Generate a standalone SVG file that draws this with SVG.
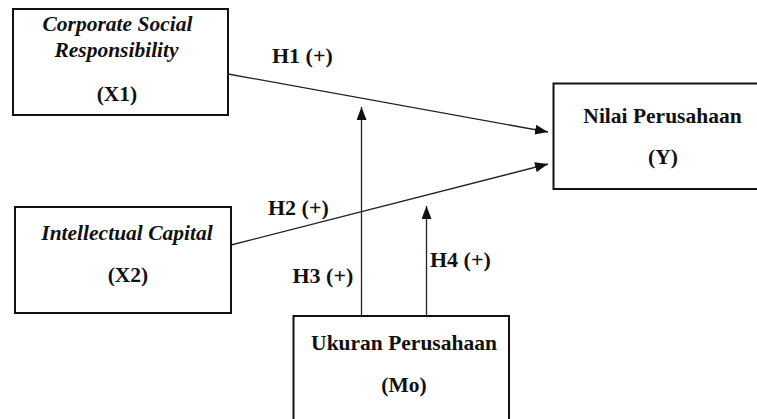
<svg xmlns="http://www.w3.org/2000/svg" width="757" height="419" viewBox="0 0 757 419">
<style>
.box{fill:#fff;stroke:#111;stroke-width:2}
.t{font-family:"Liberation Serif","Times New Roman",serif;font-size:21.5px;font-weight:bold;fill:#111;text-anchor:middle}
.i{font-style:italic}
.lbl{font-family:"Liberation Serif","Times New Roman",serif;font-size:22px;font-weight:bold;fill:#111}
.c{fill:none;stroke:#222;stroke-width:1.3}
</style>
<defs>
<marker id="ah" markerUnits="userSpaceOnUse" markerWidth="13" markerHeight="10" refX="13" refY="5" orient="auto">
<path d="M0,0 L13,5 L0,10 z" fill="#111"/>
</marker>
</defs>
<rect width="757" height="419" fill="#fff"/>
<g id="connectors">
<line class="c" x1="228" y1="74" x2="548" y2="132" marker-end="url(#ah)"/>
<line class="c" x1="231" y1="245" x2="548" y2="164" marker-end="url(#ah)"/>
<line class="c" x1="361.5" y1="316" x2="361.5" y2="107" marker-end="url(#ah)"/>
<line class="c" x1="426.5" y1="316" x2="426.5" y2="206" marker-end="url(#ah)"/>
<text class="lbl" x="272" y="63">H1 (+)</text>
<text class="lbl" x="268" y="215">H2 (+)</text>
<text class="lbl" x="292.5" y="283">H3 (+)</text>
<text class="lbl" x="430" y="267">H4 (+)</text>
</g>
<g id="x1">
<rect class="box" x="13" y="9" width="215" height="106"/>
<text class="t i" x="117.5" y="31">Corporate Social</text>
<text class="t i" x="116.5" y="57">Responsibility</text>
<text class="t" x="117" y="101">(X1)</text>
</g>
<g id="x2">
<rect class="box" x="15" y="207" width="216" height="106"/>
<text class="t i" x="127" y="239.5">Intellectual Capital</text>
<text class="t" x="128" y="282">(X2)</text>
</g>
<g id="y">
<rect class="box" x="553.5" y="83.5" width="210" height="105.5"/>
<text class="t" x="662.5" y="122.5">Nilai Perusahaan</text>
<text class="t" x="663" y="164">(Y)</text>
</g>
<g id="mo">
<rect class="box" x="293.5" y="316" width="215.5" height="110"/>
<text class="t" x="404" y="350">Ukuran Perusahaan</text>
<text class="t" x="404" y="392">(Mo)</text>
</g>
</svg>
